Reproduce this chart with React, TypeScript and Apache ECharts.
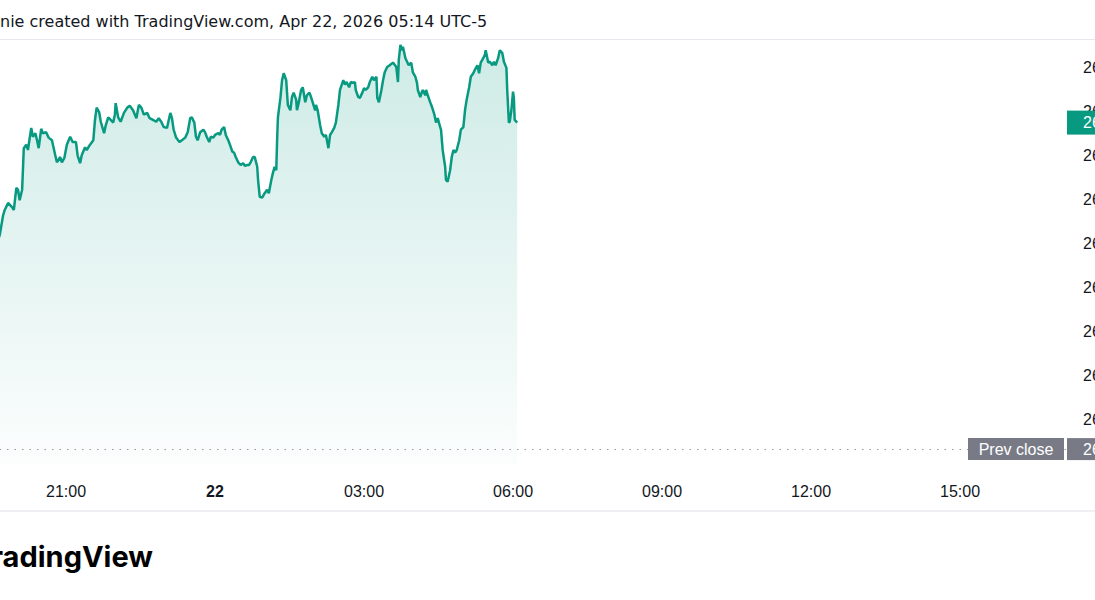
import React, { useEffect, useRef } from 'react';
import * as echarts from 'echarts';

const TITLE = 'nie created with TradingView.com, Apr 22, 2026 05:14 UTC-5';
const BRAND = 'TradingView';
const DAY_LABEL = '22';
const PREV_LABEL = 'Prev close';

// minutes relative to 00:00 on the 22nd
const times = [
  -262, -260, -256, -254, -250, -245, -243, -240, -238, -236,
  -233, -231, -228, -226, -222, -220, -217, -215, -213, -210,
  -208, -204, -201, -197, -193, -191, -187, -185, -182, -179,
  -175, -172, -168, -166, -163, -161, -157, -155, -151, -147,
  -145, -143, -140, -138, -134, -132, -129, -126, -123, -121,
  -120, -117, -114, -110, -106, -103, -99, -95, -92, -89,
  -86, -82, -79, -75, -71, -68, -65, -62, -58, -54,
  -52, -50, -47, -43, -40, -36, -33, -30, -28, -25,
  -23, -21, -18, -14, -12, -10, -7, -5, -2, 0,
  4, 6, 8, 11, 13, 16, 18, 21, 23, 25,
  28, 31, 34, 36, 39, 41, 43, 46, 48, 51,
  52, 54, 57, 60, 63, 65, 68, 70, 72, 74,
  75, 76, 79, 81, 83, 86, 87, 88, 91, 93,
  95, 98, 99, 101, 104, 106, 109, 111, 114, 116,
  118, 121, 122, 124, 127, 129, 132, 134, 137, 139,
  141, 144, 146, 149, 151, 152, 155, 157, 159, 162,
  164, 167, 169, 170, 173, 175, 178, 180, 182, 185,
  187, 190, 192, 195, 196, 198, 201, 203, 205, 208,
  211, 215, 219, 221, 222, 224, 226, 227, 230, 232,
  234, 237, 239, 242, 244, 245, 248, 250, 251, 254,
  255, 257, 260, 262, 265, 267, 269, 272, 273, 275,
  278, 279, 281, 284, 286, 288, 290, 292, 295, 297,
  300, 302, 304, 307, 309, 312, 314, 317, 319, 321,
  324, 326, 327, 330, 332, 335, 337, 339, 342, 344,
  347, 349, 352, 353, 355, 356, 358, 360, 361, 362,
  365,
];

const prices = [
  26254, 26260, 26282, 26288, 26296, 26291, 26288, 26313, 26311, 26299,
  26311, 26358, 26362, 26356, 26381, 26371, 26375, 26367, 26358, 26380,
  26375, 26376, 26370, 26367, 26350, 26342, 26348, 26342, 26347, 26362,
  26371, 26365, 26365, 26350, 26341, 26350, 26359, 26356, 26362, 26367,
  26390, 26404, 26399, 26388, 26375, 26384, 26393, 26390, 26387, 26396,
  26409, 26393, 26388, 26398, 26404, 26406, 26401, 26392, 26407, 26404,
  26396, 26398, 26392, 26390, 26388, 26392, 26388, 26382, 26381, 26398,
  26392, 26379, 26370, 26365, 26367, 26370, 26376, 26392, 26393, 26387,
  26371, 26367, 26376, 26379, 26376, 26371, 26365, 26371, 26370, 26373,
  26375, 26373, 26379, 26382, 26373, 26367, 26362, 26354, 26353, 26348,
  26342, 26339, 26341, 26338, 26339, 26339, 26342, 26348, 26348, 26337,
  26322, 26303, 26302, 26307, 26311, 26307, 26322, 26330, 26337, 26333,
  26367, 26393, 26415, 26435, 26443, 26435, 26421, 26407, 26401, 26416,
  26421, 26413, 26401, 26409, 26424, 26427, 26410, 26418, 26421, 26416,
  26410, 26401, 26407, 26401, 26384, 26375, 26371, 26373, 26358, 26373,
  26376, 26381, 26387, 26407, 26424, 26427, 26435, 26430, 26433, 26427,
  26433, 26432, 26433, 26424, 26416, 26415, 26421, 26426, 26424, 26427,
  26433, 26439, 26435, 26439, 26415, 26410, 26424, 26435, 26444, 26450,
  26452, 26455, 26450, 26433, 26458, 26475, 26469, 26473, 26460, 26456,
  26452, 26455, 26444, 26439, 26432, 26424, 26416, 26422, 26424, 26418,
  26424, 26418, 26410, 26405, 26396, 26387, 26392, 26382, 26379, 26356,
  26337, 26322, 26320, 26333, 26348, 26356, 26353, 26356, 26367, 26379,
  26382, 26401, 26413, 26427, 26439, 26443, 26447, 26452, 26443, 26455,
  26460, 26464, 26469, 26455, 26456, 26452, 26456, 26452, 26460, 26469,
  26466, 26456, 26449, 26424, 26387, 26388, 26401, 26422, 26415, 26390,
  26387,
];

const PREV_CLOSE = 26017;

const X_MIN = -360;
const X_MAX = 1028;
const X_STEP = 180;
const Y_MIN = 26000;
const Y_MAX = 26500;
const Y_STEP = 50;

const GREEN = '#089981';
const GREY = '#787b86';
const TEXT = '#131722';
const FONT = '"Liberation Sans", Arial, sans-serif';
const TITLE_FONT = '"DejaVu Sans", sans-serif';

const fmtPrice = (v: number) =>
  v.toLocaleString('en-US', { minimumFractionDigits: 2, maximumFractionDigits: 2 });

const pad = (n: number) => (n < 10 ? '0' + n : '' + n);

export default function App() {
  const ref = useRef<HTMLDivElement>(null);

  useEffect(() => {
    if (!ref.current) return;
    const chart = echarts.init(ref.current, null, { renderer: 'svg' });
    const n = Math.min(times.length, prices.length);
    const data = [];
    for (let i = 0; i < n; i++) data.push([times[i], prices[i]]);

    chart.setOption({
      animation: false,
      backgroundColor: '#ffffff',
      grid: {
        left: -83, right: 29, top: 22.9, bottom: 135.9,
        containLabel: false, outerBoundsMode: 'none',
      },
      xAxis: {
        type: 'value',
        min: X_MIN,
        max: X_MAX,
        interval: X_STEP,
        axisLine: { show: false },
        axisTick: { show: false },
        splitLine: { show: false },
        axisLabel: {
          showMaxLabel: false,
          hideOverlap: false,
          margin: 19,
          color: TEXT,
          fontSize: 16,
          fontFamily: FONT,
          formatter: (v: number) => {
            if (v % 1440 === 0) return '{b|' + DAY_LABEL + '}';
            const h = (((v / 60) % 24) + 24) % 24;
            return pad(h) + ':00';
          },
          rich: {
            b: { fontWeight: 'bold', fontSize: 16, color: TEXT, fontFamily: FONT },
          },
        },
      },
      yAxis: {
        type: 'value',
        position: 'right',
        min: Y_MIN,
        max: Y_MAX,
        interval: Y_STEP,
        axisLine: { show: false },
        axisTick: { show: false },
        splitLine: { show: false },
        axisLabel: {
          showMinLabel: false,
          showMaxLabel: false,
          margin: 17,
          color: TEXT,
          fontSize: 16,
          fontFamily: FONT,
          formatter: (v: number) => fmtPrice(v),
        },
      },
      series: [
        {
          type: 'line',
          data,
          showSymbol: false,
          symbol: 'none',
          lineStyle: { color: GREEN, width: 2.5 },
          itemStyle: { color: GREEN },
          areaStyle: {
            color: new echarts.graphic.LinearGradient(0, 0, 0, 1, [
              { offset: 0, color: 'rgba(8,153,129,0.28)' },
              { offset: 1, color: 'rgba(8,153,129,0.02)' },
            ]),
          },
          markLine: {
            silent: true,
            symbol: 'none',
            label: { show: false },
            lineStyle: { color: '#9598a1', width: 1, type: [1.5, 6] },
            data: [{ yAxis: PREV_CLOSE }],
          },
        },
      ],
    });

    const W = chart.getWidth();
    const gridRight = W - 29;
    const lastVal = prices[n - 1];
    const lastY = chart.convertToPixel({ yAxisIndex: 0 }, lastVal) as number;
    const pcY = chart.convertToPixel({ yAxisIndex: 0 }, PREV_CLOSE) as number;

    chart.setOption({
      graphic: [
        { type: 'line', silent: true, shape: { x1: 0, y1: 39.5, x2: W, y2: 39.5 }, style: { stroke: '#e6e8ee', lineWidth: 1 } },
        { type: 'line', silent: true, shape: { x1: 0, y1: 511, x2: W, y2: 511 }, style: { stroke: '#eef0f4', lineWidth: 2 } },
        {
          type: 'text', x: 0, y: 21, silent: true,
          style: { text: TITLE, font: '16px ' + TITLE_FONT, fill: TEXT, verticalAlign: 'middle' },
        },
        {
          type: 'text', x: 153, y: 556, silent: true,
          style: { text: BRAND, font: 'bold 29px Inter, "Liberation Sans", sans-serif', fill: '#000000', align: 'right', verticalAlign: 'middle' },
        },
        {
          type: 'rect', silent: true, z: 10,
          shape: { x: gridRight + 1, y: lastY - 12, width: 30, height: 24 },
          style: { fill: GREEN },
        },
        {
          type: 'text', silent: true, z: 11, x: gridRight + 17, y: lastY,
          style: { text: fmtPrice(lastVal), font: '16px ' + FONT, fill: '#ffffff', verticalAlign: 'middle' },
        },
        {
          type: 'rect', silent: true, z: 10,
          shape: { x: gridRight - 98, y: pcY - 11, width: 96, height: 22 },
          style: { fill: GREY },
        },
        {
          type: 'text', silent: true, z: 11, x: gridRight - 50, y: pcY,
          style: { text: PREV_LABEL, font: '16px ' + FONT, fill: '#ffffff', align: 'center', verticalAlign: 'middle' },
        },
        {
          type: 'rect', silent: true, z: 10,
          shape: { x: gridRight + 1, y: pcY - 11, width: 30, height: 22 },
          style: { fill: GREY },
        },
        {
          type: 'text', silent: true, z: 11, x: gridRight + 17, y: pcY,
          style: { text: fmtPrice(PREV_CLOSE), font: '16px ' + FONT, fill: '#ffffff', verticalAlign: 'middle' },
        },
      ],
    });

    return () => chart.dispose();
  }, []);

  return (
    <div
      ref={ref}
      style={{ position: 'fixed', left: 0, top: 0, width: 1095, height: 600, overflow: 'hidden', background: '#fff' }}
    />
  );
}
